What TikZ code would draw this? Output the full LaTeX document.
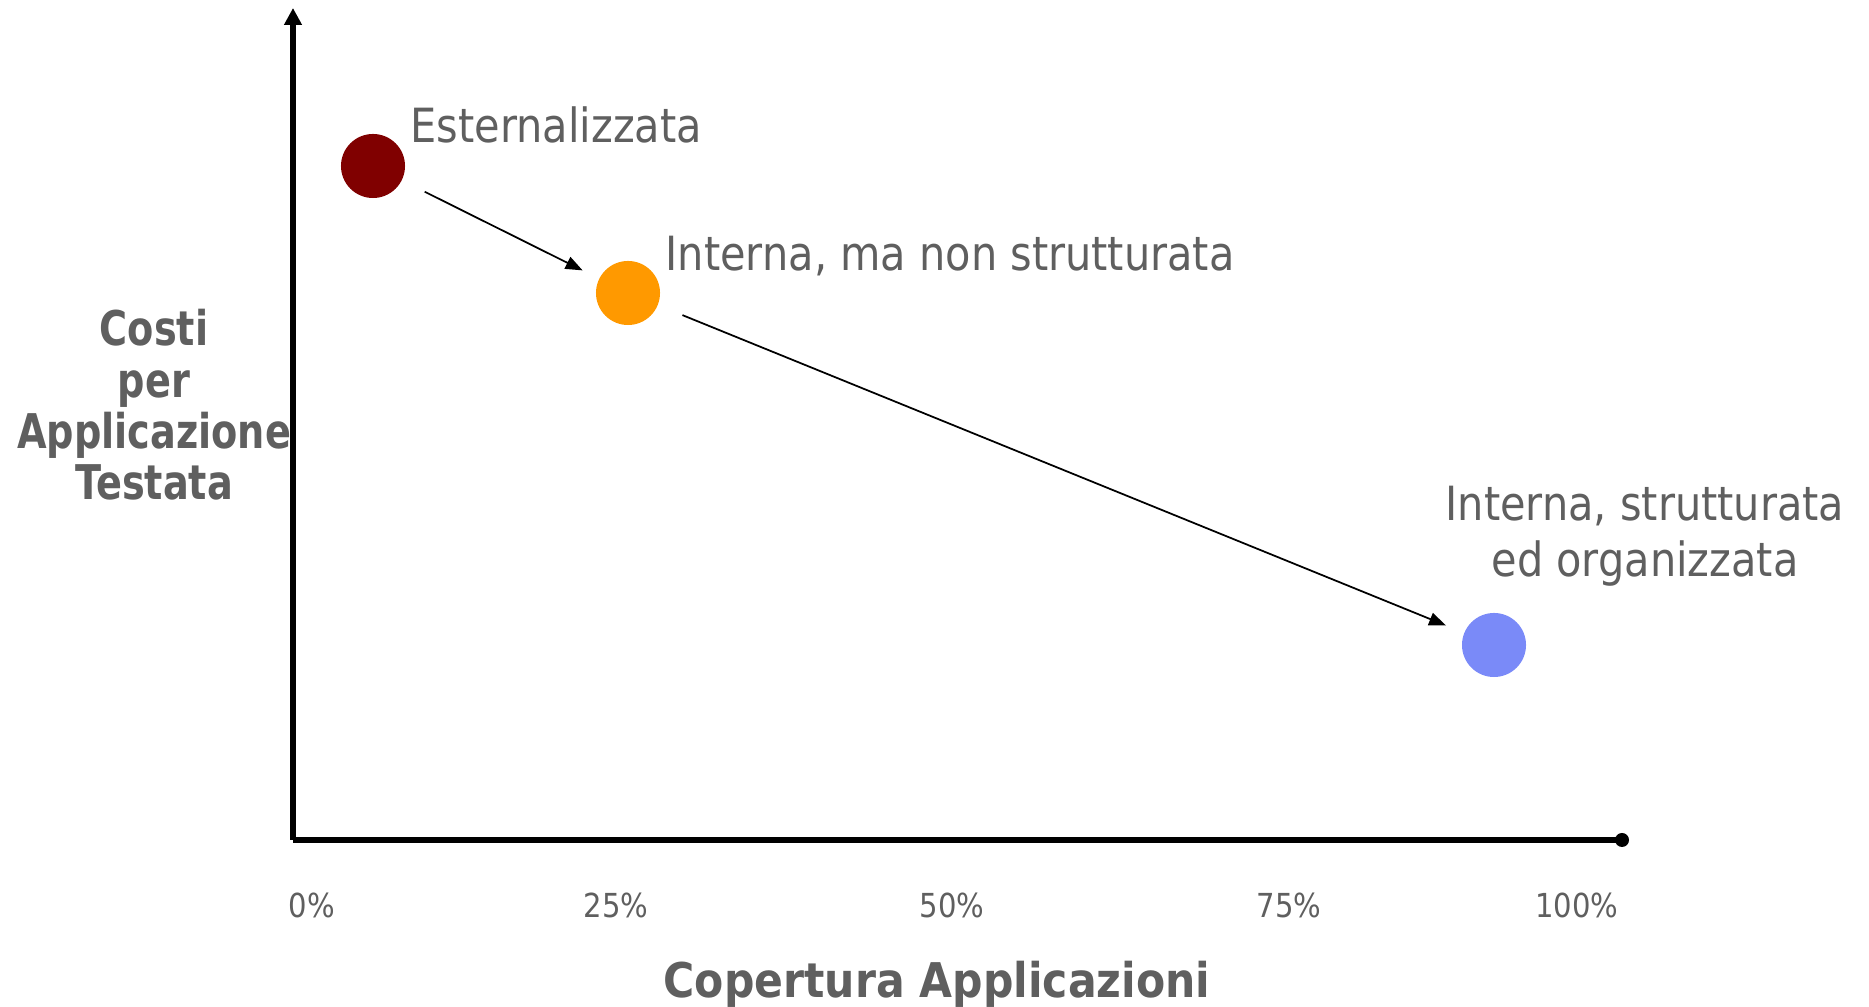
\documentclass[tikz,border=0pt]{standalone}
\usepackage{fontspec}
\setmainfont{DejaVu Sans}[FakeStretch=0.88]
\newfontfamily\boldlab{DejaVu Sans Bold}[FakeStretch=0.8]
\newfontfamily\boldwide{DejaVu Sans Bold}[FakeStretch=0.89]
\usetikzlibrary{arrows.meta}

\definecolor{txtgray}{HTML}{5F5F5F}
\definecolor{darkred}{HTML}{800000}
\definecolor{orangedot}{HTML}{FF9900}
\definecolor{bluedot}{HTML}{7A8AF8}

\tikzset{
	axis/.style={line width=1.5pt},
	dot/.style={circle, minimum size=0.64cm, inner sep=0pt},
	flow/.style={line width=0.5pt, -{Triangle[length=0.17cm,width=0.13cm]}},
	lab/.style={text=txtgray, inner sep=0pt, font=\fontsize{13.4}{16.2}\selectfont},
	tick/.style={text=txtgray, inner sep=0pt, anchor=base, font=\fontsize{9.4}{11}\selectfont},
	title/.style={text=txtgray, inner sep=0pt, align=center, font=\boldlab\fontsize{13.6}{14.6}\selectfont}
}

\begin{document}
\begin{tikzpicture}[x=0.01cm, y=-0.01cm]
				\useasboundingbox (0,0) rectangle (1869,1007);

				% Axes
				\coordinate (O) at (293,840);
				\coordinate (ytop) at (293,8);
				\coordinate (xend) at (1622,840);
				\draw[axis, -{Triangle[length=0.17cm,width=0.17cm]}] (O) -- (ytop);
				\draw[axis] (O) -- (xend);
				\fill (xend) circle (7);

				% Points
				\node[dot, fill=darkred] (ext) at (373,166) {};
				\node[dot, fill=orangedot] (intn) at (628,293) {};
				\node[dot, fill=bluedot] (ints) at (1494,645) {};

				\node[lab, anchor=base west] (extlab) at (410,143) {Esternalizzata};
				\node[lab, anchor=base west] (intnlab) at (665,271) {Interna, ma non strutturata};
				\node[lab, anchor=base, align=center] (intslab) at (1645,577) {Interna, strutturata\\ed organizzata};

				% Path
				\draw[flow, shorten <=0.25cm, shorten >=0.18cm] (ext) -- (intn);
				\draw[flow, shorten <=0.26cm, shorten >=0.19cm] (intn) -- (ints);

				% Labels
				\foreach \x/\p [count=\i] in {312/0, 616/25, 952/50, 1289/75, 1577/100}
					\node[tick] (tick\i) at (\x,918) {\p\%};
				\node[title, anchor=base, font=\boldwide\fontsize{13.6}{14.2}\selectfont] (xtitle) at (937,998) {Copertura Applicazioni};
				\node[title, anchor=base] (ytitle) at (154,500) {Costi\\per\\Applicazione\\Testata};
			\end{tikzpicture}
\end{document}
